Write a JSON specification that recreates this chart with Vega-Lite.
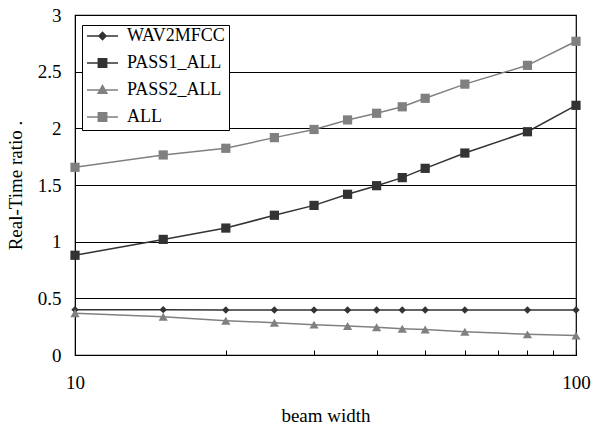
{
  "$schema": "https://vega.github.io/schema/vega-lite/v6.json",
  "autosize": "none",
  "width": 501,
  "height": 340,
  "padding": {"left": 75, "top": 15, "right": 18, "bottom": 73},
  "background": "white",
  "config": {
    "font": "Liberation Serif",
    "view": {"stroke": "black", "strokeWidth": 1.2},
    "axis": {"labelFont": "Liberation Serif", "titleFont": "Liberation Serif", "labelFontSize": 19, "titleFontSize": 19, "titleFontWeight": "normal", "labelColor": "black", "titleColor": "black", "domainColor": "black", "tickColor": "black"},
    "legend": {"labelFont": "Liberation Serif", "labelFontSize": 18, "labelColor": "black"}
  },
  "data": {"values": [
    {"beam": 10, "series": "WAV2MFCC", "ratio": 0.40},
    {"beam": 15, "series": "WAV2MFCC", "ratio": 0.40},
    {"beam": 20, "series": "WAV2MFCC", "ratio": 0.397},
    {"beam": 25, "series": "WAV2MFCC", "ratio": 0.397},
    {"beam": 30, "series": "WAV2MFCC", "ratio": 0.397},
    {"beam": 35, "series": "WAV2MFCC", "ratio": 0.397},
    {"beam": 40, "series": "WAV2MFCC", "ratio": 0.397},
    {"beam": 45, "series": "WAV2MFCC", "ratio": 0.397},
    {"beam": 50, "series": "WAV2MFCC", "ratio": 0.397},
    {"beam": 60, "series": "WAV2MFCC", "ratio": 0.397},
    {"beam": 80, "series": "WAV2MFCC", "ratio": 0.397},
    {"beam": 100, "series": "WAV2MFCC", "ratio": 0.397},
    {"beam": 10, "series": "PASS1_ALL", "ratio": 0.88},
    {"beam": 15, "series": "PASS1_ALL", "ratio": 1.02},
    {"beam": 20, "series": "PASS1_ALL", "ratio": 1.12},
    {"beam": 25, "series": "PASS1_ALL", "ratio": 1.233},
    {"beam": 30, "series": "PASS1_ALL", "ratio": 1.32},
    {"beam": 35, "series": "PASS1_ALL", "ratio": 1.418},
    {"beam": 40, "series": "PASS1_ALL", "ratio": 1.494},
    {"beam": 45, "series": "PASS1_ALL", "ratio": 1.565},
    {"beam": 50, "series": "PASS1_ALL", "ratio": 1.647},
    {"beam": 60, "series": "PASS1_ALL", "ratio": 1.782},
    {"beam": 80, "series": "PASS1_ALL", "ratio": 1.97},
    {"beam": 100, "series": "PASS1_ALL", "ratio": 2.203},
    {"beam": 10, "series": "PASS2_ALL", "ratio": 0.368},
    {"beam": 15, "series": "PASS2_ALL", "ratio": 0.338},
    {"beam": 20, "series": "PASS2_ALL", "ratio": 0.303},
    {"beam": 25, "series": "PASS2_ALL", "ratio": 0.285},
    {"beam": 30, "series": "PASS2_ALL", "ratio": 0.268},
    {"beam": 35, "series": "PASS2_ALL", "ratio": 0.256},
    {"beam": 40, "series": "PASS2_ALL", "ratio": 0.244},
    {"beam": 45, "series": "PASS2_ALL", "ratio": 0.232},
    {"beam": 50, "series": "PASS2_ALL", "ratio": 0.224},
    {"beam": 60, "series": "PASS2_ALL", "ratio": 0.206},
    {"beam": 80, "series": "PASS2_ALL", "ratio": 0.182},
    {"beam": 100, "series": "PASS2_ALL", "ratio": 0.171},
    {"beam": 10, "series": "ALL", "ratio": 1.656},
    {"beam": 15, "series": "ALL", "ratio": 1.765},
    {"beam": 20, "series": "ALL", "ratio": 1.824},
    {"beam": 25, "series": "ALL", "ratio": 1.918},
    {"beam": 30, "series": "ALL", "ratio": 1.99},
    {"beam": 35, "series": "ALL", "ratio": 2.074},
    {"beam": 40, "series": "ALL", "ratio": 2.133},
    {"beam": 45, "series": "ALL", "ratio": 2.19},
    {"beam": 50, "series": "ALL", "ratio": 2.265},
    {"beam": 60, "series": "ALL", "ratio": 2.39},
    {"beam": 80, "series": "ALL", "ratio": 2.556},
    {"beam": 100, "series": "ALL", "ratio": 2.768}
  ]},
  "encoding": {
    "x": {"field": "beam", "type": "quantitative",
      "scale": {"type": "log", "domain": [10, 100], "nice": false},
      "axis": {"title": "beam width", "values": [10, 20, 30, 40, 50, 60, 70, 80, 90, 100], "labelExpr": "datum.value == 10 || datum.value == 100 ? format(datum.value, 'd') : ''", "grid": false, "tickSize": -5, "labelPadding": 23, "titlePadding": 14, "labelFlush": false}},
    "y": {"field": "ratio", "type": "quantitative",
      "scale": {"domain": [0, 3], "nice": false},
      "axis": {"title": "Real-Time ratio .", "values": [0, 0.5, 1, 1.5, 2, 2.5, 3], "format": "~g", "ticks": false, "labelPadding": 14, "titlePadding": 12, "grid": true, "gridColor": "black", "gridOpacity": 1, "gridWidth": 1, "labelFlush": false}},
    "color": {"field": "series", "type": "nominal",
      "scale": {"domain": ["WAV2MFCC", "PASS1_ALL", "PASS2_ALL", "ALL"], "range": ["#333333", "#333333", "#808080", "#808080"]},
      "legend": {"title": null, "orient": "none", "legendX": 7, "legendY": 10, "strokeColor": "black", "fillColor": "white", "padding": 4, "symbolSize": 961, "clipHeight": 14, "rowPadding": 9, "labelOffset": 8, "symbolStrokeWidth": 1.5, "symbolOpacity": 1}}
  },
  "layer": [
    {"mark": {"type": "line", "strokeWidth": 1.5}},
    {"transform": [{"filter": "datum.series == 'WAV2MFCC'"}],
      "mark": {"type": "point", "filled": true, "opacity": 1, "shape": "diamond", "size": 55}},
    {"transform": [{"filter": "datum.series == 'PASS1_ALL' || datum.series == 'ALL'"}],
      "mark": {"type": "point", "filled": true, "opacity": 1, "shape": "square", "size": 85}},
    {"transform": [{"filter": "datum.series == 'PASS2_ALL'"}],
      "mark": {"type": "point", "filled": true, "opacity": 1, "shape": "triangle-up", "size": 85}},
    {"transform": [{"filter": "datum.beam < 0"}],
      "mark": {"type": "point", "filled": true, "opacity": 1, "strokeWidth": 1.5},
      "encoding": {
        "shape": {"field": "series", "type": "nominal",
          "scale": {"domain": ["WAV2MFCC", "PASS1_ALL", "PASS2_ALL", "ALL"], "range": ["M-1,0L1,0M-0.23,0L0,-0.23L0.23,0L0,0.23Z", "M-1,0L1,0M-0.27,-0.27L0.27,-0.27L0.27,0.27L-0.27,0.27Z", "M-1,0L1,0M-0.28,0.21L0.28,0.21L0,-0.29Z", "M-1,0L1,0M-0.27,-0.27L0.27,-0.27L0.27,0.27L-0.27,0.27Z"]}},
        "stroke": {"field": "series", "type": "nominal",
          "scale": {"domain": ["WAV2MFCC", "PASS1_ALL", "PASS2_ALL", "ALL"], "range": ["#333333", "#333333", "#8c8c8c", "#808080"]}}
      }}
  ]
}
